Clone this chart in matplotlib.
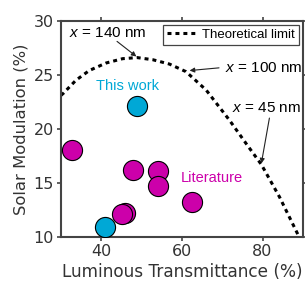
import numpy as np
import matplotlib.pyplot as plt

plt.rcParams['mathtext.fontset'] = 'custom'
plt.rcParams['mathtext.it'] = 'Liberation Sans:italic'
plt.rcParams['mathtext.rm'] = 'Liberation Sans'

# Theoretical limit curve
limit_x = [30.0, 30.6, 33.7, 37.0, 41.2, 45.3, 48.9, 52.8, 56.9, 61.0, 66.0, 71.8, 76.0, 79.7, 84.2, 88.8, 89.5]
limit_y = [23.1, 23.3, 24.5, 25.4, 26.1, 26.5, 26.6, 26.4, 26.0, 25.3, 23.6, 20.8, 18.6, 16.7, 13.7, 10.2, 9.6]

# Literature points
lit_x = [32.7, 47.8, 54.1, 54.1, 62.5, 46.0, 45.1]
lit_y = [18.0, 16.2, 16.1, 14.7, 13.2, 12.25, 12.1]

# This work points
work_x = [48.9, 41.0]
work_y = [22.1, 10.95]

cyan = '#00a8d6'
magenta = '#cc00aa'
grey = '#333333'
fam = 'Liberation Sans'

fig = plt.figure(figsize=(3.05, 2.82), dpi=100)
ax = fig.add_axes([0.2, 0.16, 0.793, 0.766])

ax.plot(limit_x, limit_y, ls=(0, (1.3, 1.3)), color='black', lw=2.2, label='Theoretical limit')
ax.scatter(lit_x, lit_y, s=210, color=magenta, edgecolor='black', linewidth=0.8, zorder=3)
ax.scatter(work_x, work_y, s=210, color=cyan, edgecolor='black', linewidth=0.8, zorder=3)

ax.set_xlim(30, 90)
ax.set_ylim(10, 30)
ax.set_xticks([40, 60, 80])
ax.set_yticks([10, 15, 20, 25, 30])
ax.tick_params(direction='out', top=True, labelsize=11.5, labelcolor=grey,
               color='#444444', length=3, width=1.2, pad=2)
ax.tick_params(axis='y', right=True)
for sp in ax.spines.values():
    sp.set_color('#444444')
    sp.set_linewidth(1.5)

ax.set_xlabel('Luminous Transmittance (%)', fontsize=12.2, color=grey, labelpad=3)
ax.set_ylabel('Solar Modulation (%)', fontsize=11.8, color=grey, labelpad=4)

ax.text(46.6, 24.0, 'This work', color=cyan, fontsize=10.5, family=fam, ha='center', va='center')
ax.text(67.3, 15.45, 'Literature', color=magenta, fontsize=10.5, family=fam, ha='center', va='center')

ax.text(32.0, 28.9, r'$x$ = 140 nm', fontsize=11, family=fam, ha='left', va='center')
ax.text(89.8, 25.65, r'$x$ = 100 nm', fontsize=11, family=fam, ha='right', va='center')
ax.text(89.6, 21.9, r'$x$ = 45 nm', fontsize=11, family=fam, ha='right', va='center')

arrow = dict(arrowstyle='-|>', color='#222222', lw=0.8, mutation_scale=7, shrinkA=0, shrinkB=0)
ax.annotate('', xy=(48.7, 26.7), xytext=(43.9, 28.1), arrowprops=arrow)
ax.annotate('', xy=(61.9, 25.4), xytext=(69.2, 25.65), arrowprops=arrow)
ax.annotate('', xy=(79.7, 16.8), xytext=(81.7, 21.0), arrowprops=arrow)

leg = ax.legend(loc='upper right', frameon=True, fancybox=False,
                handlelength=2.2, borderpad=0.3, borderaxespad=0.3, handletextpad=0.5,
                prop={'family': fam, 'size': 9.5})
leg.get_frame().set_edgecolor('#444444')
leg.get_frame().set_linewidth(0.9)
leg.get_frame().set_alpha(1)

fig.savefig('out.png', dpi=100)
